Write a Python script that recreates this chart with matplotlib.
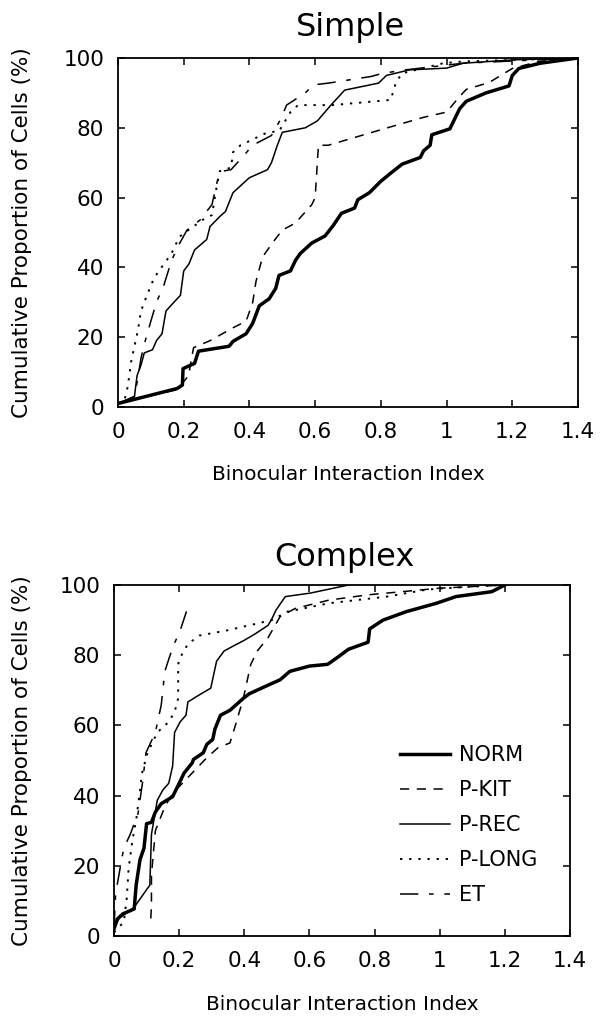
import matplotlib
matplotlib.use("Agg")
import matplotlib.pyplot as plt

# ---------------- data ----------------
labels = ["NORM", "P-KIT", "P-REC", "P-LONG", "ET"]

# Simple cells
s_norm_x = [0, 0.18, 0.196, 0.198, 0.233, 0.245, 0.338, 0.35, 0.39, 0.41, 0.43, 0.46, 0.48, 0.49, 0.525, 0.54, 0.555, 0.59, 0.63, 0.655, 0.68, 0.72, 0.73, 0.765, 0.8, 0.83, 0.865, 0.92, 0.93, 0.95, 0.955, 1.01, 1.04, 1.06, 1.12, 1.19, 1.2, 1.22, 1.285, 1.4]
s_norm_y = [1, 5.3, 6.3, 11, 12.5, 16, 17.4, 18.8, 21, 24, 29, 31, 34, 37.7, 39, 42, 44, 47, 49, 52, 55.5, 57, 59.4, 61.4, 64.7, 67, 69.6, 71.5, 73.4, 75, 78, 79.7, 85.5, 87.6, 90, 92, 95, 97, 98.5, 100]
s_kit_x = [0, 0.18, 0.215, 0.22, 0.23, 0.28, 0.35, 0.39, 0.41, 0.42, 0.44, 0.47, 0.5, 0.54, 0.59, 0.6, 0.61, 0.64, 0.82, 0.93, 1.0, 1.04, 1.06, 1.13, 1.2, 1.28, 1.4]
s_kit_y = [1, 5, 9, 12, 17, 19, 22.7, 24.6, 30, 36, 43, 47, 50.7, 52.7, 58, 60, 75, 75, 80, 83, 84.5, 89, 91, 93, 97, 99, 100]
s_rec_x = [0, 0.05, 0.058, 0.07, 0.08, 0.105, 0.117, 0.134, 0.146, 0.17, 0.19, 0.2, 0.216, 0.233, 0.27, 0.28, 0.31, 0.327, 0.35, 0.38, 0.4, 0.455, 0.467, 0.485, 0.5, 0.57, 0.607, 0.648, 0.69, 0.793, 0.817, 0.887, 1.0, 1.05, 1.21, 1.4]
s_rec_y = [1, 3, 9, 12, 15.5, 16.4, 19, 21, 27.5, 30, 32, 39, 41, 45, 48, 51.7, 54.6, 56, 61.4, 64, 65.7, 68, 70, 75, 78.7, 80, 82, 86.5, 90.8, 92.8, 95, 96.6, 97.1, 98.5, 99.5, 100]
s_long_x = [0, 0.02, 0.03, 0.04, 0.06, 0.07, 0.088, 0.11, 0.14, 0.163, 0.187, 0.257, 0.286, 0.3, 0.31, 0.344, 0.35, 0.373, 0.455, 0.49, 0.525, 0.548, 0.653, 0.83, 0.846, 0.864, 0.99, 1.05, 1.4]
s_long_y = [1, 2, 6, 13, 21.7, 27.5, 32, 37, 41, 44, 48.8, 53.6, 55, 63, 67.6, 68.6, 73, 75, 78.7, 79, 84.5, 86.5, 86.5, 88, 93, 95.6, 98.5, 99, 100]
s_et_x = [0, 0.05, 0.06, 0.07, 0.08, 0.1, 0.117, 0.14, 0.163, 0.187, 0.21, 0.25, 0.286, 0.303, 0.32, 0.344, 0.373, 0.41, 0.467, 0.496, 0.513, 0.57, 0.595, 0.64, 0.77, 0.805, 0.875, 1.05, 1.4]
s_et_y = [1, 3, 8, 14, 18, 24.6, 30, 35, 42, 46.8, 50.7, 53.6, 58, 65, 67.6, 68, 71, 75, 77.8, 82.6, 86.5, 90, 92.3, 92.8, 94.7, 95.6, 96.6, 98.5, 100]

# Complex cells
c_norm_x = [0, 0.01, 0.027, 0.062, 0.068, 0.08, 0.092, 0.1, 0.115, 0.127, 0.145, 0.18, 0.2, 0.215, 0.24, 0.244, 0.274, 0.285, 0.303, 0.31, 0.327, 0.356, 0.397, 0.415, 0.462, 0.51, 0.54, 0.6, 0.656, 0.685, 0.72, 0.78, 0.785, 0.826, 0.897, 0.99, 1.05, 1.16, 1.2]
c_norm_y = [2, 4.8, 6.3, 7.7, 14.5, 21.8, 25, 32, 32.4, 35.3, 37.7, 39.7, 43.5, 46.4, 49.3, 50.3, 52.2, 54.6, 56, 59, 62.9, 64.3, 67.7, 69, 71, 73, 75.4, 76.9, 77.4, 79.3, 81.7, 83.7, 87.5, 90, 92.4, 94.8, 96.7, 98.1, 100]
c_kit_x = [0.113, 0.115, 0.115, 0.127, 0.156, 0.18, 0.22, 0.25, 0.285, 0.32, 0.356, 0.374, 0.397, 0.42, 0.44, 0.473, 0.51, 0.556, 0.66, 0.78, 1.0, 1.2]
c_kit_y = [5, 9, 17.4, 30, 36.8, 40.6, 44.5, 47.4, 50.8, 53.7, 55, 60.4, 67.7, 77.4, 81.2, 85, 91, 93.3, 95.7, 97.2, 99.1, 100]
c_rec_x = [0, 0.015, 0.062, 0.11, 0.115, 0.133, 0.15, 0.168, 0.18, 0.186, 0.203, 0.221, 0.227, 0.262, 0.297, 0.315, 0.338, 0.368, 0.397, 0.432, 0.473, 0.485, 0.497, 0.526, 0.603, 0.72]
c_rec_y = [2, 5, 8.2, 14.5, 29, 38.7, 41.6, 43.5, 48.4, 58, 61, 62.9, 66.7, 68.7, 70.6, 78.3, 81.2, 82.7, 84.1, 86, 88.5, 90.4, 92.8, 96.7, 97.7, 100]
c_long_x = [0, 0.03, 0.039, 0.045, 0.056, 0.068, 0.08, 0.086, 0.103, 0.133, 0.168, 0.186, 0.197, 0.197, 0.203, 0.227, 0.262, 0.344, 0.485, 0.532, 0.66, 0.838, 0.955, 1.0, 1.19]
c_long_y = [1, 4, 10.6, 19.3, 27, 33, 41.6, 46.4, 52.2, 58, 61, 63.8, 67.7, 77.4, 79.3, 83.2, 85.6, 87, 90, 92.4, 94.8, 96.7, 98.6, 99, 100]
c_et_x = [0, 0.005, 0.02, 0.03, 0.05, 0.074, 0.088, 0.098, 0.127, 0.145, 0.156, 0.18, 0.203, 0.228]
c_et_y = [2, 12, 20, 25, 29, 35, 44, 52.2, 58, 65.8, 75.4, 82.2, 87, 94]

xticks = [0, 0.2, 0.4, 0.6, 0.8, 1.0, 1.2, 1.4]
xticklabels = ["0", "0.2", "0.4", "0.6", "0.8", "1", "1.2", "1.4"]
yticks = [0, 20, 40, 60, 80, 100]

# ---------------- styles ----------------
styles = {
    "NORM": dict(color="black", lw=2.5, linestyle="-"),
    "P-KIT": dict(color="black", lw=1.1, dashes=(6, 5)),
    "P-REC": dict(color="black", lw=1.1, linestyle="-"),
    "P-LONG": dict(color="black", lw=1.4, dashes=(1.2, 3.5)),
    "ET": dict(color="black", lw=1.1, dashes=(12, 7, 3, 7)),
}

W, H = 606, 1018
fig = plt.figure(figsize=(W / 100, H / 100), dpi=100)
plt.rcParams["font.family"] = ["DejaVu Sans"]


def make_axes(l, t, r, b):
    return fig.add_axes([l / W, 1 - b / H, (r - l) / W, (b - t) / H])


def style_ax(ax, box):
    l, t, r, b = box
    ax.set_xlim(0, 1.4)
    ax.set_ylim(0, 100)
    ax.set_xticks(xticks)
    ax.set_xticklabels(xticklabels)
    ax.set_yticks(yticks)
    ax.tick_params(direction="in", top=True, right=True, length=5, width=1.1,
                   labelsize=15.5)
    ax.tick_params(axis="x", pad=11)
    ax.tick_params(axis="y", pad=10)
    for s in ax.spines.values():
        s.set_linewidth(1.3)
    ax.set_xlabel("Binocular Interaction Index", fontsize=14.5, va="center")
    ax.set_ylabel("Cumulative Proportion of Cells (%)", fontsize=15.5, va="center")
    ax.xaxis.set_label_coords(0.5, -(68) / (b - t))
    ax.yaxis.set_label_coords((22 - l) / (r - l), 0.5)


top_box = (118, 58, 578, 407)
bot_box = (114, 585, 570, 936)

ax1 = make_axes(*top_box)
series1 = [(s_norm_x, s_norm_y), (s_kit_x, s_kit_y), (s_rec_x, s_rec_y),
           (s_long_x, s_long_y), (s_et_x, s_et_y)]
for lab, (xs, ys) in zip(labels, series1):
    ax1.plot(xs, ys, label=lab, **styles[lab])
style_ax(ax1, top_box)
fig.text(350 / W, 1 - 36 / H, "Simple", ha="center", va="baseline", fontsize=23)

ax2 = make_axes(*bot_box)
series2 = [(c_norm_x, c_norm_y), (c_kit_x, c_kit_y), (c_rec_x, c_rec_y),
           (c_long_x, c_long_y), (c_et_x, c_et_y)]
for lab, (xs, ys) in zip(labels, series2):
    ax2.plot(xs, ys, label=lab, **styles[lab])
style_ax(ax2, bot_box)
fig.text(344 / W, 1 - 566 / H, "Complex", ha="center", va="baseline", fontsize=23)

ax2.legend(loc="center left", bbox_to_anchor=((400 - 114) / 456, (936 - 825) / 351),
           frameon=False, fontsize=15, handlelength=2.4, handletextpad=0.45,
           labelspacing=0.72, borderpad=0, borderaxespad=0)

fig.savefig("out.png", dpi=100)
